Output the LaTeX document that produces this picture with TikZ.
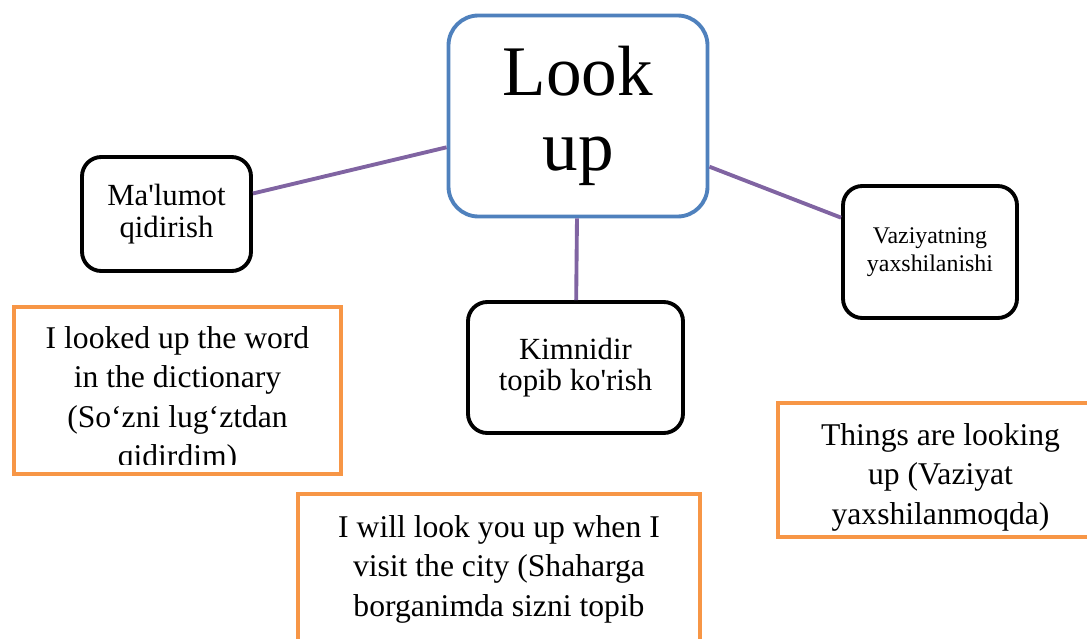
\documentclass[tikz,border=0pt]{standalone}
\usepackage{fontspec}
\setmainfont{Liberation Serif}
\usetikzlibrary{positioning}
\definecolor{hubblue}{HTML}{4F81BD}
\definecolor{linkpurple}{HTML}{8064A2}
\definecolor{exorange}{HTML}{F79646}

\begin{document}
\begin{tikzpicture}[
    hub/.style={rectangle, draw=hubblue, line width=2.2pt, rounded corners=17pt, minimum width=5.18cm, minimum height=4.02cm, inner sep=0pt, align=center, fill=white, font=\fontsize{40.5}{42.5}\selectfont},
    sense/.style={rectangle, draw=black, line width=2.2pt, rounded corners=11pt, inner sep=0pt, align=center, fill=white, font=\fontsize{17.5}{18}\selectfont},
    example/.style={rectangle, draw=exorange, line width=2.2pt, inner sep=0pt},
    extext/.style={align=center, inner sep=0pt, font=\fontsize{18}{22.4}\selectfont},
    link/.style={draw=linkpurple, line width=2.2pt}
]
    \useasboundingbox (0,0) rectangle (21.74,-12.76);
    % headword and its senses
    \node[hub] (lookup) at (11.56,-2.32) {Look\\up};
    \node[sense, minimum width=3.38cm, minimum height=2.28cm] (malumot) at (3.33,-4.28) {Ma\textquotesingle lumot\\qidirish};
    \node[sense, minimum width=4.30cm, minimum height=2.62cm] (kimnidir) at (11.51,-7.35) {Kimnidir\\topib ko\textquotesingle rish};
    \node[sense, minimum width=3.48cm, minimum height=2.64cm, font=\fontsize{13.6}{15.9}\selectfont] (vaziyat) at (18.60,-5.04) {Vaziyatning\\yaxshilanishi};
    \draw[link] (lookup) -- (malumot);
    \draw[link] (lookup) -- (kimnidir);
    \draw[link] (lookup) -- (vaziyat);
    % examples
    \node[example, minimum width=6.54cm, minimum height=3.34cm] (ex1) at (3.55,-7.81) {};
    \begin{scope}
        \clip ([shift={(1.1pt,-1.1pt)}]ex1.north west) rectangle ([shift={(-1.1pt,0.22cm)}]ex1.south east);
        \node[extext, below=0.42cm of ex1.north] (ex1text) {I looked up the word\\in the dictionary\\(So‘zni lug‘ztdan\\qidirdim)};
    \end{scope}
    \node[example, minimum width=8.04cm, minimum height=4.0cm] (ex2) at (9.98,-11.88) {};
    \node[extext, below=0.46cm of ex2.north] (ex2text) {I will look you up when I\\visit the city (Shaharga\\borganimda sizni topib};
    \node[example, minimum width=6.5cm, minimum height=2.68cm] (ex3) at (18.81,-9.40) {};
    \node[extext, below=0.44cm of ex3.north] (ex3text) {Things are looking\\up (Vaziyat\\yaxshilanmoqda)};
\end{tikzpicture}
\end{document}
